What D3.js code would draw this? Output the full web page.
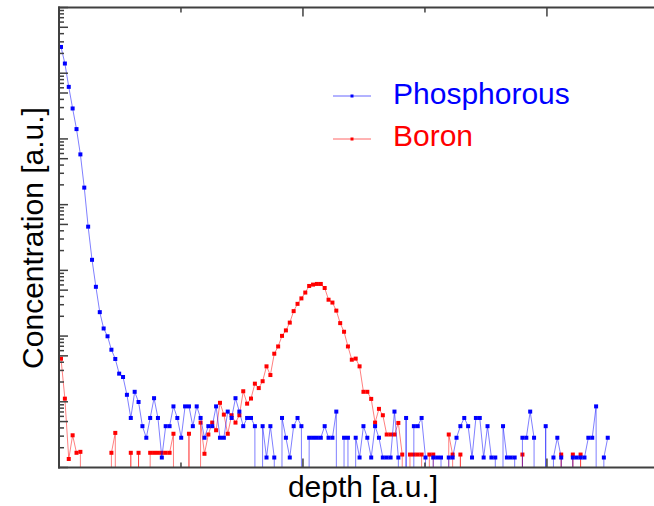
<!DOCTYPE html>
<html><head><meta charset="utf-8">
<script src="https://cdn.jsdelivr.net/npm/d3@7"></script>
<style>body{margin:0;background:#fff}svg{display:block}text{font-family:"Liberation Sans",Arial,sans-serif}</style>
</head><body>
<script>
// sample depth (arbitrary units, one per measured point)
const depth = [0,1,2,3,4,5,6,7,8,9,10,11,12,13,14,15,16,17,18,19,20,21,22,23,24,25,26,27,28,29,30,31,32,33,34,35,36,37,38,39,40,41,42,43,44,45,46,47,48,49,50,51,52,53,54,55,56,57,58,59,60,61,62,63,64,65,66,67,68,69,70,71,72,73,74,75,76,77,78,79,80,81,82,83,84,85,86,87,88,89,90,91,92,93,94,95,96,97,98,99,100,101,102,103,104,105,106,107,108,109,110,111,112,113,114,115,116,117,118,119,120,121,122,123,124,125,126,127,128,129,130,131,132,133,134,135,136,137,138,139,140,141];
const phosphorous = [1.77e6,9.9e5,4.37e5,2.05e5,9.95e4,4.1e4,1.28e4,3260,1020,396,
163,92,70,43.7,31.6,18.9,16.8,9,4,10,
7,3,2,4,8,4,1,3,3,6,
4,2,6,6,3,6,4,2,3,3,
6,2,2,5,4,8,5,3,4,4,
3,0,3,1,3,1,0,4,2,1,
3,4,3,0,2,2,2,2,3,2,
2,5,0,2,2,0,2,1,3,2,
1,3,2,1,1,1,5,1,0,4,
0,3,3,4,1,0,1,1,1,0,
1,1,2,3,4,3,1,4,4,1,
3,1,1,0,3,1,1,1,0,2,
2,5,2,0,0,3,0,1,2,1,
0,0,1,1,1,1,2,2,6,0,
1,2];
const boron = [31.9,7.87,0.95,2.18,1.18,1.22,0,0,0,0,
0,0,0,1.18,2.37,0,0,0,1.18,0,
1.18,0,0,1.18,1.18,1.18,1.18,1.18,1.18,2.3,
0,0,0,2.3,0,0,3.4,1.14,2.24,3.4,
2.6,6.8,4.5,2.3,4.4,3.4,4.4,10.2,6.6,7.9,
13.3,11.4,14.5,24.4,18,38,49,71,86,113,
169,218,264,324,408,428,438,438,380,252,
228,172,111,82,49,30.8,32,24.4,10,10,
7.8,3.4,5.5,4.4,2.24,2.24,2.24,3.36,1.11,0,
1.11,1.11,1.11,1.11,0,1.11,1.11,0,0,0,
2.24,1.11,0,1.11,0,0,0,0,0,0,
0,0,0,0,0,0,0,0,0,1.11,
0,0,0,0,0,0,0,0,0,1.11,
0,0,1.11,0,1.11,0,0,0,0,0,
0,0];
const seriesNames = ["Phosphorous","Boron"];
const seriesColors = ["#0000ff","#ff0000"];
const xMajorTicks = [-0.516, 62.40, 125.32];
const xMinorTicks = [30.94, 93.86];
const yDecades = [0.705,7.05,70.5,705,7050,70500,705000,7050000];
const xTitle = "depth [a.u.]";
const yTitle = "Concentration [a.u.]";

const W=654,H=506;
const L=59,T=7.5,B=467.5,R=669;
const svg=d3.select("body").append("svg").attr("width",W).attr("height",H);
const x=d3.scaleLinear().domain([-0.516,156.8]).range([L,R]);
const y=d3.scaleLog().domain([0.705,7.05e6]).range([B,T]);

svg.append("defs").append("clipPath").attr("id","clip")
  .append("rect").attr("x",L).attr("y",T).attr("width",R-L).attr("height",B-T);

const g=svg.append("g").attr("clip-path","url(#clip)");
const line=d3.line().x(d=>x(d.d)).y(d=>d.v>0?y(d.v):B+4000);

function drawSeries(vals,color){
  const data=depth.map((d,i)=>({d:d,v:vals[i]}));
  g.append("path").datum(data).attr("d",line).attr("fill","none")
    .attr("stroke",color).attr("stroke-width",1).attr("stroke-opacity",0.5);
  g.selectAll(null).data(data.filter(p=>p.v>0)).enter().append("rect")
    .attr("x",p=>x(p.d)-2).attr("y",p=>y(p.v)-2).attr("width",4).attr("height",4)
    .attr("fill",color);
}
drawSeries(boron,seriesColors[1]);
drawSeries(phosphorous,seriesColors[0]);

// axes
const axCol="#404040";
const ax=svg.append("g");
// y ticks
const yMajor=[],yMinor=[];
yDecades.forEach(dv=>{[1,2,3,4,5,6,7,8,9].forEach(m=>{const v=dv*m; if(v<=7.05e6*1.0001){ (m===1||m===5?yMajor:yMinor).push(v);} });});
ax.selectAll(null).data(yMajor).enter().append("line")
  .attr("x1",L).attr("x2",L+9).attr("y1",d=>y(d)).attr("y2",d=>y(d)).attr("stroke",axCol).attr("stroke-width",1.5);
ax.selectAll(null).data(yMinor).enter().append("line")
  .attr("x1",L).attr("x2",L+5).attr("y1",d=>y(d)).attr("y2",d=>y(d)).attr("stroke",axCol).attr("stroke-width",1.5);
// x ticks top and bottom
[[T,1],[B,-1]].forEach(([yy,dir])=>{
  ax.selectAll(null).data(xMajorTicks).enter().append("line")
    .attr("x1",d=>x(d)).attr("x2",d=>x(d)).attr("y1",yy).attr("y2",yy+dir*9).attr("stroke",axCol).attr("stroke-width",1.5);
  ax.selectAll(null).data(xMinorTicks).enter().append("line")
    .attr("x1",d=>x(d)).attr("x2",d=>x(d)).attr("y1",yy).attr("y2",yy+dir*5).attr("stroke",axCol).attr("stroke-width",1.5);
});
ax.append("line").attr("x1",L-1).attr("x2",W).attr("y1",T).attr("y2",T).attr("stroke",axCol).attr("stroke-width",2);
ax.append("line").attr("x1",L-1).attr("x2",W).attr("y1",B).attr("y2",B).attr("stroke",axCol).attr("stroke-width",2);
ax.append("line").attr("x1",L).attr("x2",L).attr("y1",T-1).attr("y2",B+1).attr("stroke",axCol).attr("stroke-width",2);

// titles
svg.append("text").attr("x",363).attr("y",497).attr("text-anchor","middle")
  .attr("font-size",30).attr("fill","#000").text(xTitle);
svg.append("text").attr("transform","translate(43,238) rotate(-90)").attr("text-anchor","middle")
  .attr("font-size",30).attr("fill","#000").text(yTitle);

// legend
const leg=svg.append("g");
seriesNames.forEach((n,i)=>{
  const ly=[96,139][i], ty=[103.5,145.5][i];
  leg.append("line").attr("x1",333).attr("x2",371).attr("y1",ly).attr("y2",ly)
    .attr("stroke",seriesColors[i]).attr("stroke-width",1).attr("stroke-opacity",0.6);
  leg.append("rect").attr("x",350.5).attr("y",ly-1.5).attr("width",3).attr("height",3).attr("fill",seriesColors[i]);
  leg.append("text").attr("x",393).attr("y",ty).attr("font-size",30).attr("fill",seriesColors[i]).text(n);
});
</script>
</body></html>
